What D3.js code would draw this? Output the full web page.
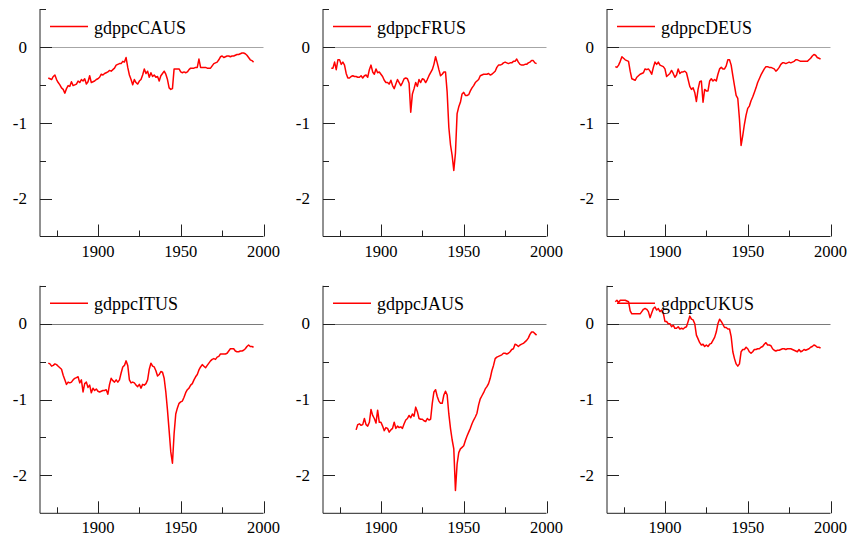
<!DOCTYPE html>
<html>
<head>
<meta charset="utf-8">
<script src="https://cdn.jsdelivr.net/npm/d3@7"></script>
<style>
  html, body { margin: 0; padding: 0; background: #fff; }
  svg { display: block; font-family: "Liberation Serif", "Times New Roman", serif; }
</style>
</head>
<body>
<div id="chart"></div>
<script>
// ------------------------------------------------
// DATA (ratio of log GDP per capita vs US, annual)
// ------------------------------------------------
const seriesNames = ["gdppcCAUS", "gdppcFRUS", "gdppcDEUS", "gdppcITUS", "gdppcJAUS", "gdppcUKUS"];
const startYears = [1870, 1870, 1870, 1870, 1885, 1870];

const caus = [
  -0.41, -0.42, -0.43, -0.39, -0.37, -0.43, -0.47, -0.50, -0.54, -0.56,
  -0.61, -0.55, -0.51, -0.52, -0.46, -0.51, -0.50, -0.49, -0.45, -0.47,
  -0.43, -0.45, -0.42, -0.49, -0.46, -0.38, -0.47, -0.46, -0.45, -0.43,
  -0.42, -0.40, -0.36, -0.37, -0.35, -0.34, -0.33, -0.31, -0.32, -0.30,
  -0.28, -0.24, -0.23, -0.22, -0.22, -0.19, -0.20, -0.14, -0.27, -0.37,
  -0.43, -0.50, -0.43, -0.47, -0.49, -0.45, -0.43, -0.37, -0.29, -0.35,
  -0.32, -0.40, -0.34, -0.39, -0.37, -0.40, -0.39, -0.45, -0.38, -0.35,
  -0.32, -0.36, -0.43, -0.54, -0.56, -0.55, -0.29, -0.29, -0.29, -0.29,
  -0.33, -0.34, -0.33, -0.34, -0.33, -0.30, -0.28, -0.28, -0.28, -0.27,
  -0.27, -0.16, -0.27, -0.27, -0.27, -0.27, -0.28, -0.28, -0.28, -0.25,
  -0.22, -0.21, -0.20, -0.17, -0.13, -0.12, -0.14, -0.13, -0.12, -0.12,
  -0.13, -0.12, -0.12, -0.11, -0.10, -0.10, -0.09, -0.08, -0.08, -0.09,
  -0.11, -0.14, -0.17, -0.18, -0.20
];

const frus = [
  -0.28, -0.28, -0.20, -0.30, -0.17, -0.17, -0.23, -0.20, -0.24, -0.35,
  -0.41, -0.41, -0.39, -0.38, -0.39, -0.39, -0.40, -0.40, -0.38, -0.41,
  -0.38, -0.37, -0.40, -0.30, -0.24, -0.33, -0.36, -0.29, -0.34, -0.33,
  -0.36, -0.39, -0.44, -0.47, -0.47, -0.49, -0.44, -0.51, -0.55, -0.49,
  -0.43, -0.47, -0.51, -0.47, -0.42, -0.41, -0.42, -0.48, -0.86, -0.62,
  -0.55, -0.47, -0.52, -0.43, -0.47, -0.42, -0.43, -0.47, -0.43, -0.38,
  -0.34, -0.30, -0.23, -0.13, -0.21, -0.30, -0.38, -0.36, -0.33, -0.33,
  -0.60, -1.06, -1.29, -1.43, -1.63, -1.40, -0.88, -0.79, -0.73, -0.62,
  -0.60, -0.64, -0.64, -0.63, -0.58, -0.54, -0.51, -0.47, -0.45, -0.43,
  -0.38, -0.37, -0.36, -0.36, -0.36, -0.35, -0.37, -0.36, -0.34, -0.32,
  -0.27, -0.24, -0.24, -0.23, -0.21, -0.20, -0.21, -0.22, -0.21, -0.21,
  -0.19, -0.19, -0.16, -0.20, -0.23, -0.24, -0.24, -0.23, -0.23, -0.21,
  -0.20, -0.18, -0.18, -0.21, -0.22
];

const deus = [
  -0.26, -0.27, -0.24, -0.19, -0.13, -0.15, -0.17, -0.18, -0.19, -0.32,
  -0.42, -0.43, -0.44, -0.40, -0.38, -0.36, -0.35, -0.34, -0.29, -0.30,
  -0.29, -0.32, -0.36, -0.27, -0.20, -0.23, -0.20, -0.24, -0.25, -0.26,
  -0.29, -0.39, -0.37, -0.35, -0.31, -0.35, -0.40, -0.37, -0.29, -0.35,
  -0.33, -0.33, -0.32, -0.34, -0.43, -0.52, -0.56, -0.54, -0.60, -0.72,
  -0.56, -0.46, -0.45, -0.73, -0.56, -0.58, -0.58, -0.45, -0.42, -0.45,
  -0.43, -0.45, -0.36, -0.29, -0.27, -0.29, -0.29, -0.25, -0.17, -0.17,
  -0.24, -0.38, -0.51, -0.64, -0.68, -0.95, -1.30, -1.17, -1.02, -0.90,
  -0.81, -0.78, -0.71, -0.66, -0.60, -0.54, -0.47, -0.42, -0.37, -0.33,
  -0.29, -0.26, -0.26, -0.27, -0.27, -0.28, -0.29, -0.32, -0.30, -0.27,
  -0.23, -0.21, -0.21, -0.22, -0.21, -0.20, -0.21, -0.20, -0.19, -0.17,
  -0.17, -0.18, -0.19, -0.19, -0.19, -0.19, -0.19, -0.17, -0.15, -0.12,
  -0.10, -0.11, -0.14, -0.15, -0.16
];

const itus = [
  -0.52, -0.53, -0.56, -0.55, -0.53, -0.54, -0.56, -0.58, -0.60, -0.68,
  -0.74, -0.80, -0.77, -0.78, -0.77, -0.74, -0.72, -0.71, -0.70, -0.78,
  -0.74, -0.90, -0.79, -0.77, -0.84, -0.81, -0.91, -0.85, -0.88, -0.86,
  -0.89, -0.90, -0.89, -0.88, -0.88, -0.87, -0.93, -0.80, -0.72, -0.75,
  -0.77, -0.74, -0.77, -0.74, -0.65, -0.57, -0.55, -0.49, -0.55, -0.74,
  -0.78, -0.77, -0.78, -0.81, -0.83, -0.80, -0.85, -0.80, -0.81, -0.79,
  -0.74, -0.60, -0.52, -0.56, -0.57, -0.62, -0.69, -0.67, -0.63, -0.64,
  -0.72, -0.90, -1.14, -1.41, -1.69, -1.84, -1.45, -1.19, -1.11, -1.05,
  -1.03, -1.02, -0.97, -0.91, -0.87, -0.85, -0.81, -0.79, -0.74, -0.70,
  -0.67, -0.61, -0.57, -0.54, -0.56, -0.58, -0.55, -0.52, -0.49, -0.47,
  -0.46, -0.47, -0.44, -0.43, -0.40, -0.40, -0.40, -0.40, -0.39, -0.36,
  -0.33, -0.33, -0.33, -0.36, -0.37, -0.37, -0.36, -0.36, -0.35, -0.33,
  -0.30, -0.28, -0.30, -0.30, -0.31
];

const jaus = [
  -1.40, -1.33, -1.32, -1.34, -1.33, -1.25, -1.33, -1.35, -1.30, -1.13,
  -1.21, -1.25, -1.31, -1.14, -1.30, -1.30, -1.35, -1.41, -1.37, -1.38,
  -1.43, -1.40, -1.38, -1.30, -1.38, -1.35, -1.37, -1.36, -1.38, -1.32,
  -1.27, -1.25, -1.21, -1.24, -1.19, -1.22, -1.10, -1.16, -1.25, -1.26,
  -1.26, -1.28, -1.29, -1.25, -1.27, -1.26, -1.05, -0.90, -0.87, -0.96,
  -1.02, -1.05, -1.05, -0.94, -0.89, -0.94, -1.19, -1.38, -1.53, -1.65,
  -2.20, -1.85, -1.70, -1.65, -1.63, -1.61, -1.54, -1.48, -1.43, -1.38,
  -1.32, -1.27, -1.23, -1.18, -1.07, -0.99, -0.95, -0.91, -0.86, -0.83,
  -0.79, -0.72, -0.62, -0.55, -0.46, -0.44, -0.43, -0.42, -0.41, -0.39,
  -0.39, -0.40, -0.39, -0.37, -0.34, -0.33, -0.27, -0.28, -0.30, -0.28,
  -0.27, -0.26, -0.24, -0.22, -0.19, -0.14, -0.11, -0.11, -0.13, -0.15
];

const ukus = [
  0.29, 0.31, 0.28, 0.31, 0.31, 0.31, 0.31, 0.30, 0.29, 0.17,
  0.13, 0.13, 0.13, 0.13, 0.13, 0.13, 0.16, 0.19, 0.20, 0.19,
  0.16, 0.08, 0.14, 0.20, 0.22, 0.18, 0.20, 0.16, 0.18, 0.14,
  0.03, 0.03, 0.00, 0.00, -0.04, -0.02, -0.06, -0.06, -0.04, -0.07,
  -0.06, -0.07, -0.05, -0.04, 0.03, 0.10, 0.06, 0.05, 0.00, -0.15,
  -0.20, -0.25, -0.28, -0.27, -0.30, -0.28, -0.30, -0.27, -0.26, -0.22,
  -0.18, -0.11, 0.00, 0.06, 0.03, -0.01, -0.05, -0.05, -0.07, -0.07,
  -0.17, -0.37, -0.46, -0.53, -0.56, -0.53, -0.37, -0.34, -0.34, -0.31,
  -0.33, -0.37, -0.39, -0.37, -0.34, -0.34, -0.33, -0.33, -0.31, -0.30,
  -0.27, -0.25, -0.28, -0.28, -0.29, -0.33, -0.35, -0.36, -0.35, -0.35,
  -0.34, -0.33, -0.33, -0.34, -0.33, -0.33, -0.33, -0.34, -0.35, -0.36,
  -0.37, -0.34, -0.37, -0.36, -0.34, -0.35, -0.34, -0.33, -0.31, -0.30,
  -0.28, -0.29, -0.31, -0.31, -0.32
];

const seriesValues = [caus, frus, deus, itus, jaus, ukus];

const xDomain = [1865, 2000];
const yDomain = [-2.5, 0.5];
const xMajorTicks = [1900, 1950, 2000];
const xMinorTicks = [1875, 1925, 1975];
const yMajorTicks = [0, -1, -2];
const yMinorTicks = [0.5, -0.5, -1.5];

// ------------------------------------------------
// LAYOUT
// ------------------------------------------------
const W = 854, H = 542;
const colLefts = [40, 323, 607];
const rowTops = [9, 285.8];
const panelW = 223.5;
const panelH = 227.5;
const zeroColors = ["#a6a6a6", "#7a7a7a"];

const svg = d3.select("#chart").append("svg")
  .attr("width", W)
  .attr("height", H);

const axisColor = "#222";

seriesNames.forEach((name, i) => {
  const left = colLefts[i % 3];
  const row = Math.floor(i / 3);
  const top = rowTops[row];

  const x = d3.scaleLinear().domain(xDomain).range([left, left + panelW]);
  const y = d3.scaleLinear().domain(yDomain).range([top + panelH, top]);

  const g = svg.append("g");

  // zero reference line
  g.append("line")
    .attr("x1", left).attr("x2", left + panelW)
    .attr("y1", Math.round(y(0)) + 0.5).attr("y2", Math.round(y(0)) + 0.5)
    .attr("stroke", zeroColors[row])
    .attr("stroke-width", 1);

  // left axis (ticks inside)
  const yAxis = g.append("g")
    .attr("transform", `translate(${left},0)`);
  yAxis.append("line")
    .attr("x1", 0).attr("x2", 0)
    .attr("y1", top).attr("y2", top + panelH)
    .attr("stroke", axisColor);
  yAxis.selectAll(".ymaj").data(yMajorTicks).enter().append("line")
    .attr("x1", 0).attr("x2", 12)
    .attr("y1", d => Math.round(y(d)) + 0.5).attr("y2", d => Math.round(y(d)) + 0.5)
    .attr("stroke", axisColor);
  yAxis.selectAll(".ymin").data(yMinorTicks).enter().append("line")
    .attr("x1", 0).attr("x2", 6)
    .attr("y1", d => Math.round(y(d)) + 0.5).attr("y2", d => Math.round(y(d)) + 0.5)
    .attr("stroke", axisColor);
  yAxis.selectAll("text").data(yMajorTicks).enter().append("text")
    .attr("x", -13)
    .attr("y", d => y(d))
    .attr("dy", "0.34em")
    .attr("text-anchor", "end")
    .style("font-size", "17px")
    .style("fill", "#000")
    .text(d => d3.format("d")(d).replace("−", "-"));

  // bottom axis (ticks inside)
  const xAxis = g.append("g")
    .attr("transform", `translate(0,${top + panelH})`);
  xAxis.append("line")
    .attr("x1", left).attr("x2", left + panelW)
    .attr("y1", 0).attr("y2", 0)
    .attr("stroke", axisColor);
  xAxis.selectAll(".xmaj").data(xMajorTicks).enter().append("line")
    .attr("x1", d => Math.round(x(d)) + 0.5).attr("x2", d => Math.round(x(d)) + 0.5)
    .attr("y1", 0).attr("y2", -12)
    .attr("stroke", axisColor);
  xAxis.selectAll(".xmin").data(xMinorTicks).enter().append("line")
    .attr("x1", d => Math.round(x(d)) + 0.5).attr("x2", d => Math.round(x(d)) + 0.5)
    .attr("y1", 0).attr("y2", -6)
    .attr("stroke", axisColor);
  xAxis.selectAll("text").data(xMajorTicks).enter().append("text")
    .attr("x", d => x(d))
    .attr("y", 20)
    .attr("text-anchor", "middle")
    .style("font-size", "16.5px")
    .style("fill", "#000")
    .text(d => d);

  // series line
  const vals = seriesValues[i];
  const pts = vals.map((v, k) => ({ year: startYears[i] + k, value: v }));
  const line = d3.line()
    .x(d => x(d.year))
    .y(d => y(d.value));
  g.append("path")
    .datum(pts)
    .attr("fill", "none")
    .attr("stroke", "#ff0000")
    .attr("stroke-width", 1.5)
    .attr("stroke-linejoin", "round")
    .attr("d", line);

  // legend
  g.append("line")
    .attr("x1", left + 10).attr("x2", left + 48)
    .attr("y1", top + 17.5).attr("y2", top + 17.5)
    .attr("stroke", "#ff0000")
    .attr("stroke-width", 1.5);
  g.append("text")
    .attr("x", left + 54)
    .attr("y", top + 24.5)
    .style("font-size", "18px")
    .style("fill", "#000")
    .text(name);
});
</script>
</body>
</html>
